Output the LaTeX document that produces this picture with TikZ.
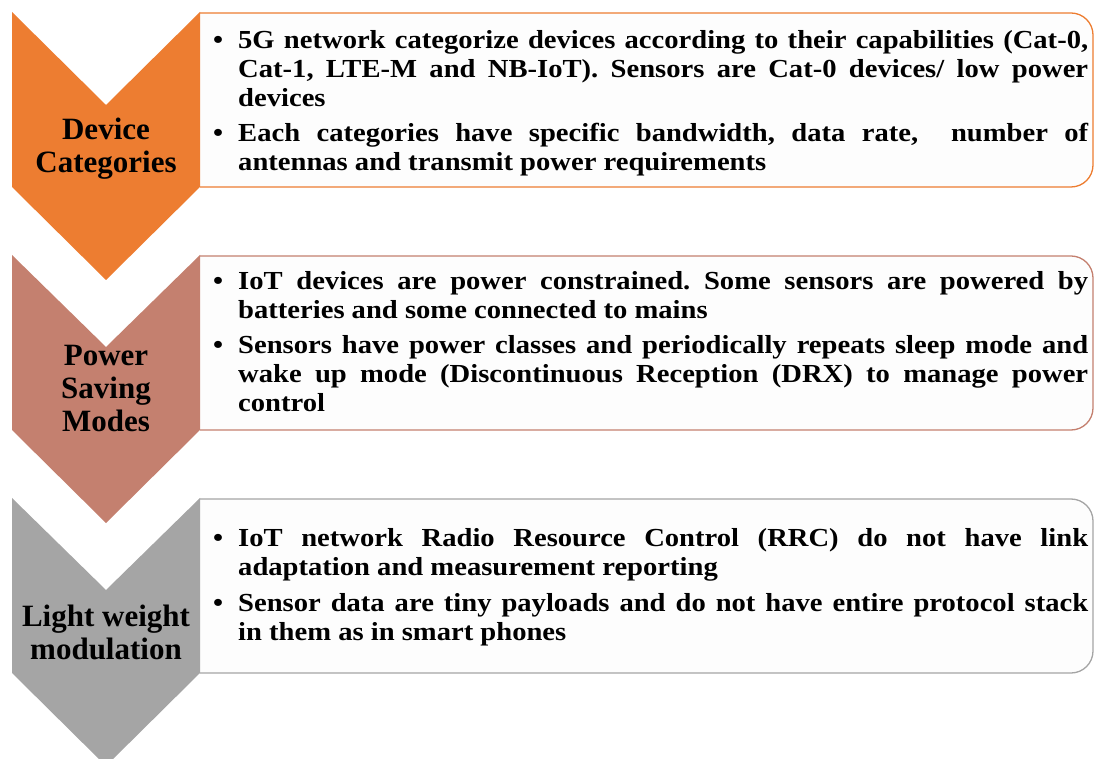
\documentclass[tikz,border=0pt]{standalone}
\usepackage{fontspec}
\setmainfont{Liberation Serif}
\newfontfamily\bodyfont{Liberation Serif}[FakeStretch=1.1]
\definecolor{corange}{HTML}{ED7D31}
\definecolor{cbrown}{HTML}{C4806F}
\definecolor{cgray}{HTML}{A5A5A5}
\definecolor{cboxfill}{HTML}{FDFDFD}
\tikzset{
  chevron/.style={fill=#1, draw=none},
  infobox/.style={draw=#1, line width=1.3pt, fill=cboxfill, rounded corners=22pt},
  label/.style={font=\bfseries\fontsize{31}{33}\selectfont, align=center, text=black, inner sep=0pt},
  bodytext/.style={font=\bodyfont\bfseries\fontsize{26}{29}\selectfont, text width=850pt, align=justify, inner sep=0pt, anchor=north west, text=black}
}
\newcommand{\bul}{\noindent\llap{\textbullet\hspace{15pt}}}
\newcommand{\pgap}{\par\vspace{6.5pt}}
\newcommand{\setpar}{\frenchspacing\hyphenpenalty=10000\exhyphenpenalty=10000\tolerance=10000\emergencystretch=20pt}
\begin{document}
\begin{tikzpicture}[x=1pt,y=1pt]
\useasboundingbox (0,0) rectangle (1094,758);
\clip (0,0) rectangle (1094,758);
% boxes
\path[infobox=corange] (200,745) -- (1093,745) -- (1093,571) -- (200,571);
\path[infobox=cbrown] (200,502) -- (1093,502) -- (1093,328) -- (200,328);
\path[infobox=cgray] (200,259) -- (1093,259) -- (1093,85) -- (200,85);
% chevrons
\fill[chevron=corange] (12,746) -- (106,653) -- (200,746) -- (200,571) -- (106,478) -- (12,571) -- cycle;
\fill[chevron=cbrown] (12,503) -- (106,411) -- (200,503) -- (200,328) -- (106,235) -- (12,328) -- cycle;
\fill[chevron=cgray] (12,260) -- (106,168) -- (200,260) -- (200,85) -- (106,-8) -- (12,85) -- cycle;
% labels
\node[label] (l1) at (106,609) {Device\\Categories};
\node[label] (l2) at (106,369) {Power\\Saving\\Modes};
\node[label] (l3) at (106,126) {Light weight\\modulation};
% texts
\node[bodytext] (t1) at (238,728) {\setpar
\bul 5G network categorize devices according to their capabilities (Cat-0,\linebreak Cat-1, LTE-M and NB-IoT). Sensors are Cat-0 devices/ low power\linebreak devices\pgap
\bul Each categories have specific bandwidth, data rate,~ number of\linebreak antennas and transmit power requirements\par};
\node[bodytext] (t2) at (238,487) {\setpar
\bul IoT devices are power constrained. Some sensors are powered by\linebreak batteries and some connected to mains\pgap
\bul Sensors have power classes and periodically repeats sleep mode and\linebreak wake up mode (Discontinuous Reception (DRX) to manage power\linebreak control\par};
\node[bodytext] (t3) at (238,229.5) {\setpar
\bul IoT network Radio Resource Control (RRC) do not have link\linebreak adaptation and measurement reporting\pgap
\bul Sensor data are tiny payloads and do not have entire protocol stack\linebreak in them as in smart phones\par};
\end{tikzpicture}
\end{document}
